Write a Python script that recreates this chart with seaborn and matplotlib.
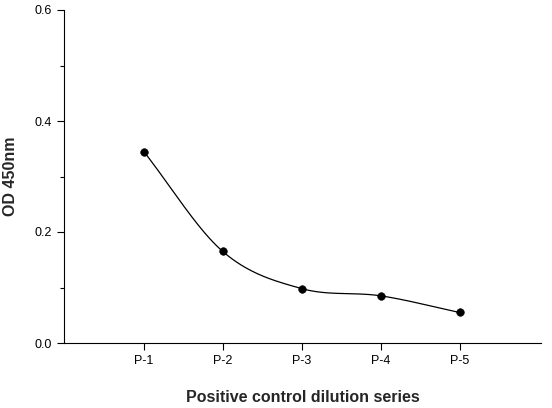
import numpy as np
import matplotlib
matplotlib.use("Agg")
import matplotlib.pyplot as plt
import seaborn as sns

categories = ["P-1", "P-2", "P-3", "P-4", "P-5"]
od_values = [0.345, 0.165, 0.098, 0.085, 0.055]

sns.set_style("ticks")
plt.rcParams['font.family'] = ['Liberation Sans', 'DejaVu Sans']

fig = plt.figure(figsize=(5.52, 4.08), dpi=100)
ax = fig.add_axes([64/552, 1-343/408, (541-64)/552, (343-10)/408])

x = np.arange(len(categories), dtype=float)
y = np.array(od_values)
# Catmull-Rom smooth curve through the points
xs, ys = [], []
px = np.concatenate([[2*x[0]-x[1]], x, [2*x[-1]-x[-2]]])
py = np.concatenate([[2*y[0]-y[1]], y, [2*y[-1]-y[-2]]])
for i in range(1, len(px)-2):
    t = np.linspace(0, 1, 40)
    for arr, out in ((px, xs), (py, ys)):
        p0, p1, p2, p3 = arr[i-1], arr[i], arr[i+1], arr[i+2]
        out.extend(0.5*((2*p1) + (-p0+p2)*t + (2*p0-5*p1+4*p2-p3)*t**2 + (-p0+3*p1-3*p2+p3)*t**3))
ax.plot(xs, ys, color="black", lw=0.9)
sns.scatterplot(x=x, y=y, ax=ax, color="black", s=30, edgecolor="black", zorder=3)

ax.set_xlim(-1.01, 5.03)
ax.set_ylim(0, 0.6)
ax.set_xticks(x)
ax.set_xticklabels(categories, fontsize=9)
ax.set_yticks([0, 0.2, 0.4, 0.6])
ax.set_yticklabels(["0.0", "0.2", "0.4", "0.6"], fontsize=9)
ax.set_yticks([0.1, 0.3, 0.5], minor=True)
ax.tick_params(which="both", direction="out", length=5, width=0.8, colors="black")
ax.tick_params(which="minor", length=3)
for s in ("top", "right"):
    ax.spines[s].set_visible(False)
for s in ("left", "bottom"):
    ax.spines[s].set_linewidth(0.8)
    ax.spines[s].set_color("black")
ax.set_xlabel("Positive control dilution series", fontsize=11.5, fontweight="bold", labelpad=17)
ax.set_ylabel("OD 450nm", fontsize=11.5, fontweight="bold", labelpad=12)

fig.savefig("out.png", dpi=100)
